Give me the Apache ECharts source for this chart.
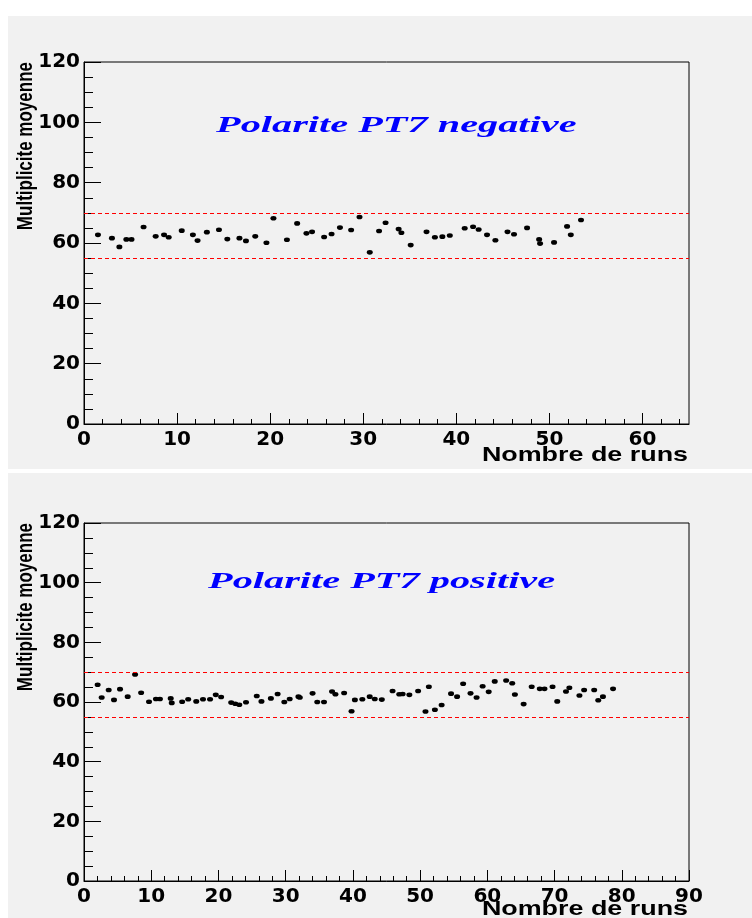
<!DOCTYPE html>
<html>
<head>
<meta charset="utf-8">
<script src="https://cdn.jsdelivr.net/npm/echarts@6/dist/echarts.min.js"></script>
<style>
html,body{margin:0;padding:0;background:#fff;}
#chart{width:752px;height:918px;}
</style>
</head>
<body>
<div id="chart"></div>
<script>
// ---- data ----
const topRuns = [1.5,3.0,3.8,4.55,5.1,6.4,7.7,8.6,9.1,10.5,11.7,12.2,13.2,14.5,15.4,16.7,17.4,18.4,19.6,20.35,21.8,22.9,23.9,24.5,25.8,26.6,27.5,28.7,29.6,30.7,31.7,32.4,33.8,34.1,35.1,36.8,37.7,38.5,39.3,40.9,41.8,42.4,43.3,44.2,45.5,46.2,47.6,48.9,49.0,50.5,51.9,52.3,53.4];
const topValues = [62.7,61.6,58.7,61.2,61.2,65.3,62.2,62.7,61.9,64.1,62.7,60.8,63.6,64.4,61.3,61.6,60.7,62.2,60.1,68.2,61.1,66.5,63.2,63.7,62.0,63.0,65.1,64.3,68.6,56.9,64.0,66.7,64.6,63.4,59.3,63.7,61.9,62.1,62.5,64.9,65.4,64.5,62.7,60.9,63.7,62.9,65.0,61.2,59.8,60.2,65.5,62.7,67.6];
const bottomRuns = [2.03,2.63,3.67,4.46,5.36,6.5,7.6,8.5,9.67,10.7,11.3,12.9,13.05,14.6,15.5,16.7,17.7,18.75,19.6,20.4,21.9,22.5,23.1,24.1,25.7,26.4,27.8,28.8,29.8,30.6,31.9,32.1,34.0,34.7,35.7,36.9,37.4,38.7,39.8,40.3,41.4,42.5,43.25,44.3,45.9,46.9,47.4,48.4,49.7,50.8,51.3,52.2,53.2,54.6,55.5,56.4,57.5,58.4,59.3,60.2,61.1,62.8,63.7,64.1,65.4,66.6,67.8,68.5,69.7,70.4,71.7,72.2,73.7,74.4,75.9,76.5,77.2,78.7];
const bottomValues = [65.8,61.5,64.0,60.7,64.3,61.8,69.2,63.1,60.1,61.0,61.0,61.2,59.7,60.1,60.9,60.2,60.9,60.9,62.4,61.7,59.8,59.4,59.1,59.9,62.0,60.2,61.2,62.7,60.0,61.0,61.8,61.5,62.9,60.0,60.0,63.5,62.6,63.0,56.9,60.7,60.9,61.8,61.0,60.8,63.7,62.6,62.7,62.4,63.7,56.8,65.1,57.4,59.0,62.8,61.8,66.1,62.9,61.5,65.3,63.4,66.9,67.2,66.3,62.5,59.3,65.1,64.4,64.4,65.1,60.2,63.5,64.8,62.2,64.0,64.0,60.6,61.8,64.4];
const limits = [55, 70];
const topXMajor = [0,10,20,30,40,50,60];
const topXMinor = [2,4,6,8,12,14,16,18,22,24,26,28,32,34,36,38,42,44,46,48,52,54,56,58,62,64];
const bottomXMajor = [0,10,20,30,40,50,60,70,80,90];
const bottomXMinor = [2,4,6,8,12,14,16,18,22,24,26,28,32,34,36,38,42,44,46,48,52,54,56,58,62,64,66,68,72,74,76,78,82,84,86,88];
const topXMax = 65, bottomXMax = 90;
const yMin = 0, yMax = 120, yStep = 20;
const titles = ['Polarite PT7 negative', 'Polarite PT7 positive'];
const yTitle = 'Multiplicite moyenne';
const xTitle = 'Nombre de runs';

// ---- chart ----
const chart = echarts.init(document.getElementById('chart'), null, {renderer: 'canvas'});
const labelFont = {fontFamily: '"DejaVu Sans", sans-serif', fontWeight: 'bold', fontSize: 20, color: '#000'};
const grids = [
  {left: 84, top: 62, width: 605, height: 362},
  {left: 84, top: 523, width: 605, height: 358}
];
function majorX(gi, max, ticks) {
  return {
    type: 'value', gridIndex: gi, min: 0, max: max,
    axisLine: {show: true, onZero: false, lineStyle: {color: '#000', width: 1}},
    axisTick: {show: true, inside: true, length: 11, customValues: ticks, lineStyle: {color: '#000', width: 1}},
    axisLabel: Object.assign({show: true, margin: 6, customValues: ticks}, labelFont),
    splitLine: {show: false}
  };
}
function minorX(gi, max, ticks) {
  return {
    type: 'value', gridIndex: gi, min: 0, max: max, position: 'bottom',
    axisLine: {show: false, onZero: false},
    axisTick: {show: true, inside: true, length: 5, customValues: ticks, lineStyle: {color: '#000', width: 1}},
    axisLabel: {show: false},
    splitLine: {show: false}
  };
}
function yAx(gi) {
  return {
    type: 'value', gridIndex: gi, min: yMin, max: yMax, interval: yStep,
    axisLine: {show: true, onZero: false, lineStyle: {color: '#000', width: 1}},
    axisTick: {show: true, inside: true, length: 17, lineStyle: {color: '#000', width: 1}},
    minorTick: {show: true, splitNumber: 4, length: 9, lineStyle: {color: '#000', width: 1}},
    axisLabel: Object.assign({margin: 4}, labelFont),
    splitLine: {show: false},
    minorSplitLine: {show: false}
  };
}
const limitStyle = {color: '#ff0000', type: [4, 3], width: 1, opacity: 1};
function series(xi, yi, xs, ys) {
  return {
    type: 'scatter', xAxisIndex: xi, yAxisIndex: yi,
    data: xs.map((x, i) => [x, ys[i]]),
    symbol: 'circle', symbolSize: [6, 4.6],
    itemStyle: {color: '#000', opacity: 1},
    silent: true,
    markLine: {
      silent: true, symbol: 'none', animation: false, precision: 1,
      label: {show: false},
      emphasis: {disabled: true},
      lineStyle: limitStyle,
      data: limits.map(v => ({yAxis: v, lineStyle: limitStyle}))
    }
  };
}
function yTitleText(yTop) {
  return {
    type: 'text', x: 26, y: yTop, rotation: Math.PI / 2, scaleY: 1.35,
    style: {text: yTitle, font: 'bold 17px "Liberation Sans", Arial, sans-serif', fill: '#000', align: 'right', verticalAlign: 'middle'}
  };
}
function xTitleText(y) {
  return {
    type: 'text', x: 688, y: y, scaleX: 1.28,
    style: {text: xTitle, font: 'bold 21px "Liberation Sans", Arial, sans-serif', fill: '#000', align: 'right', verticalAlign: 'middle'}
  };
}
function titleText(i, x, y) {
  return {
    type: 'text', x: x, y: y, scaleX: 1.68,
    style: {text: titles[i], font: 'italic bold 24px "Liberation Serif", "Times New Roman", serif', fill: '#0000ff', align: 'left', verticalAlign: 'middle'}
  };
}

chart.setOption({
  animation: false,
  backgroundColor: '#f1f1f1',
  grid: grids.map(g => Object.assign({show: true, borderColor: '#000', borderWidth: 1, backgroundColor: 'transparent'}, g)),
  xAxis: [majorX(0, topXMax, topXMajor), minorX(0, topXMax, topXMinor), majorX(1, bottomXMax, bottomXMajor), minorX(1, bottomXMax, bottomXMinor)],
  yAxis: [yAx(0), yAx(1)],
  series: [series(0, 0, topRuns, topValues), series(2, 1, bottomRuns, bottomValues)],
  graphic: [
    {type: 'rect', shape: {x: 0, y: 0, width: 752, height: 16}, style: {fill: '#fff'}, silent: true},
    {type: 'rect', shape: {x: 0, y: 0, width: 8, height: 918}, style: {fill: '#fff'}, silent: true},
    {type: 'rect', shape: {x: 0, y: 469, width: 752, height: 4}, style: {fill: '#fff'}, silent: true},
    titleText(0, 216, 126),
    titleText(1, 208, 582),
    yTitleText(62),
    yTitleText(523),
    xTitleText(455),
    xTitleText(909)
  ]
});
</script>
</body>
</html>
